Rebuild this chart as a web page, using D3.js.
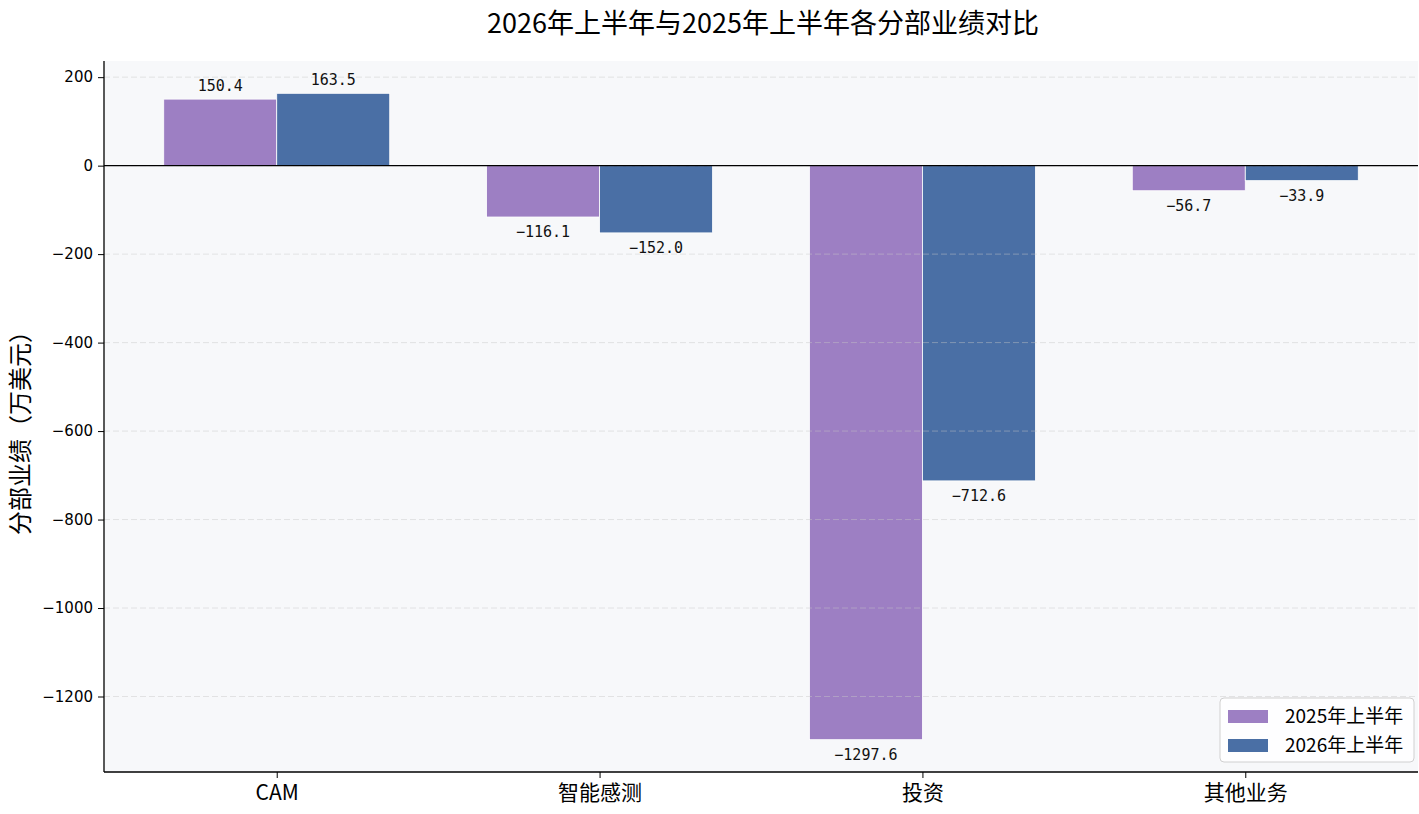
<!DOCTYPE html>
<html>
<head>
<meta charset="utf-8">
<script src="https://cdn.jsdelivr.net/npm/d3@7"></script>
<style>
  body { margin: 0; background: #fff; }
</style>
</head>
<body>
<div id="app"></div>
<script>
// Data
const categories = ['CAM', '智能感测', '投资', '其他业务'];
const seriesNames = ['2025年上半年', '2026年上半年'];
const values2025 = [150.4, -116.1, -1297.6, -56.7];
const values2026 = [163.5, -152.0, -712.6, -33.9];
const yTicks = [200, 0, -200, -400, -600, -800, -1000, -1200];

// Constants
const width = 1419;
const height = 814;
const margin = ({ top: 61, right: 1, bottom: 42, left: 104 });
const plotWidth = width - margin.left - margin.right;
const plotHeight = height - margin.top - margin.bottom;
const colors = ['#9d7fc3', '#4a6fa5'];
const cjk = '"Noto Sans CJK SC", sans-serif';

const svg = d3.select('#app')
  .append('svg')
  .attr('width', width)
  .attr('height', height);

const plot = svg.append('g')
  .attr('transform', `translate(${margin.left}, ${margin.top})`);

// Scales (matplotlib-style 5% margins)
const barW = 0.35;
const xScale = d3.scaleLinear()
  .domain([-barW - 0.185, categories.length - 1 + barW + 0.185])
  .range([0, plotWidth]);
const allVals = values2025.concat(values2026);
const yMin = d3.min(allVals);
const yMax = d3.max(allVals);
const pad = (yMax - yMin) * 0.05;
const yScale = d3.scaleLinear()
  .domain([yMin - pad, yMax + pad])
  .range([plotHeight, 0]);

// Background
plot.append('rect')
  .attr('width', plotWidth)
  .attr('height', plotHeight)
  .attr('fill', '#f7f8fa');

// Bars
const series = [values2025, values2026];
series.forEach((vals, s) => {
  plot.append('g')
    .selectAll('rect')
    .data(vals)
    .join('rect')
    .attr('x', (d, i) => xScale(i + (s === 0 ? -barW : 0)))
    .attr('width', xScale(barW) - xScale(0))
    .attr('y', (d) => yScale(Math.max(0, d)))
    .attr('height', (d) => Math.abs(yScale(d) - yScale(0)))
    .attr('fill', colors[s])
    .attr('stroke', '#ffffff')
    .attr('stroke-width', 0.8);
});

// Grid
plot.append('g')
  .selectAll('line')
  .data(yTicks)
  .join('line')
  .attr('x1', 0)
  .attr('x2', plotWidth)
  .attr('y1', (d) => yScale(d))
  .attr('y2', (d) => yScale(d))
  .attr('stroke', '#c8c8c8')
  .attr('stroke-opacity', 0.45)
  .attr('stroke-dasharray', '6,3')
  .attr('stroke-width', 1);

// Zero line
plot.append('line')
  .attr('x1', 0)
  .attr('x2', plotWidth)
  .attr('y1', yScale(0))
  .attr('y2', yScale(0))
  .attr('stroke', '#000')
  .attr('stroke-width', 1.1);

// Value labels
series.forEach((vals, s) => {
  plot.append('g')
    .selectAll('text')
    .data(vals)
    .join('text')
    .attr('x', (d, i) => xScale(i + (s === 0 ? -barW / 2 : barW / 2)))
    .attr('y', (d) => (d >= 0 ? yScale(d) - 8 : yScale(d) + 20))
    .attr('text-anchor', 'middle')
    .style('font-family', '"DejaVu Sans Mono", monospace')
    .style('font-size', '15px')
    .attr('fill', '#111')
    .text((d) => d.toFixed(1).replace('-', '\u2212'));
});

// Axes
const yAxis = d3.axisLeft(yScale)
  .tickValues(yTicks)
  .tickSize(6)
  .tickPadding(5)
  .tickFormat((d) => String(d).replace('-', '\u2212'));
const yG = plot.append('g').call(yAxis);
yG.select('.domain').remove();
yG.selectAll('text')
  .style('font-family', '"DejaVu Sans", sans-serif')
  .style('font-size', '15px')
  .attr('fill', '#000');
yG.selectAll('line').attr('stroke', '#000').attr('stroke-width', 1);

const xAxis = d3.axisBottom(xScale)
  .tickValues(d3.range(categories.length))
  .tickSize(6)
  .tickPadding(7)
  .tickFormat((d) => categories[d]);
const xG = plot.append('g')
  .attr('transform', `translate(0, ${plotHeight})`)
  .call(xAxis);
xG.select('.domain').remove();
xG.selectAll('text')
  .style('font-family', cjk)
  .style('font-size', '21px')
  .attr('fill', '#000');
xG.selectAll('line').attr('stroke', '#000').attr('stroke-width', 1);

// Spines
plot.append('line')
  .attr('x1', 0).attr('x2', 0)
  .attr('y1', 0).attr('y2', plotHeight)
  .attr('stroke', '#000').attr('stroke-width', 1.3);
plot.append('line')
  .attr('x1', 0).attr('x2', plotWidth)
  .attr('y1', plotHeight).attr('y2', plotHeight)
  .attr('stroke', '#000').attr('stroke-width', 1.3);

// Title
svg.append('text')
  .attr('x', 763)
  .attr('y', 33)
  .attr('text-anchor', 'middle')
  .style('font-family', cjk)
  .style('font-size', '27px')
  .attr('fill', '#000')
  .text('2026年上半年与2025年上半年各分部业绩对比');

// Y label
svg.append('text')
  .attr('transform', `translate(29, 427) rotate(-90)`)
  .attr('text-anchor', 'middle')
  .style('font-family', cjk)
  .style('font-size', '24px')
  .attr('fill', '#000')
  .text('分部业绩（万美元）');

// Legend
const lg = svg.append('g')
  .attr('transform', 'translate(1220, 698)');
lg.append('rect')
  .attr('width', 194)
  .attr('height', 64)
  .attr('rx', 4)
  .attr('fill', '#fff')
  .attr('fill-opacity', 0.85)
  .attr('stroke', '#d0d0d0');
seriesNames.forEach((name, i) => {
  lg.append('rect')
    .attr('x', 8)
    .attr('y', 12 + i * 29)
    .attr('width', 40)
    .attr('height', 13)
    .attr('fill', colors[i]);
  lg.append('text')
    .attr('x', 65)
    .attr('y', 25 + i * 29)
    .style('font-family', cjk)
    .style('font-size', '19px')
    .attr('fill', '#000')
    .text(name);
});
</script>
</body>
</html>
